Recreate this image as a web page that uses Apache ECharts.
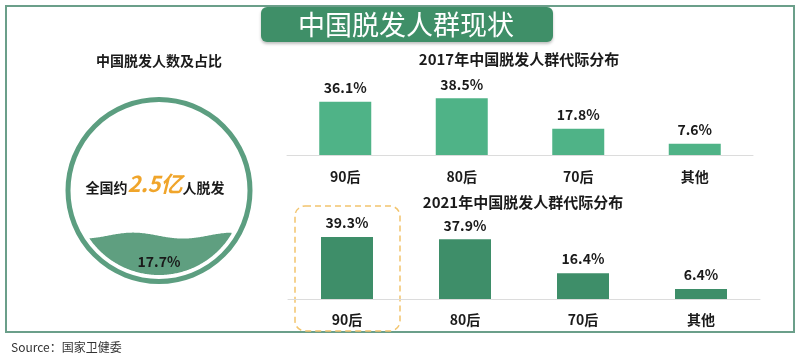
<!DOCTYPE html>
<html>
<head>
<meta charset="utf-8">
<script src="https://cdn.jsdelivr.net/npm/echarts@6/dist/echarts.min.js"></script>
<style>html,body{margin:0;padding:0;background:#fff}#c{width:800px;height:361px}</style>
</head>
<body>
<div id="c"></div>
<script>
// ---- data ----
const mainTitle = '中国脱发人群现状';
const leftTitle = '中国脱发人数及占比';
const totalText = ['全国约', '2.5亿', '人脱发'];
const hairLossShare = 17.7; // %
const categories = ['90后', '80后', '70后', '其他'];
const title2017 = '2017年中国脱发人群代际分布';
const values2017 = [36.1, 38.5, 17.8, 7.6];
const title2021 = '2021年中国脱发人群代际分布';
const values2021 = [39.3, 37.9, 16.4, 6.4];
const sourceText = 'Source：国家卫健委';

(function(){
const FONT = '"Noto Sans CJK SC", "Noto Sans", sans-serif';
const chart = echarts.init(document.getElementById('c'), null, {renderer: 'canvas'});

// circle geometry (decorative)
const cx = 159, cy = 190.5, ringR = 91, fillR = 84.5;
// water level from area share of the inner circle
function segFrac(theta){ return (theta - Math.sin(theta)) / (2*Math.PI); }
let lo = 0, hi = 2*Math.PI;
for (let i = 0; i < 60; i++){ const m = (lo+hi)/2; if (segFrac(m) < hairLossShare/100) lo = m; else hi = m; }
const theta = (lo+hi)/2;
const hh = fillR * (1 - Math.cos(theta/2));
const level = cy + fillR - hh;
const wave = x => level + 3*Math.sin((x - 158) / 100 * 2*Math.PI);
const upper = [], lower = [];
for (let x = cx - fillR; x <= cx + fillR; x += 1) {
  const yc = cy + Math.sqrt(Math.max(0, fillR*fillR - (x-cx)*(x-cx)));
  const yw = wave(x);
  if (yw < yc) { upper.push([x, yw]); lower.push([x, yc]); }
}
const wavePts = upper.concat(lower.reverse());

function barSeries(data, color, gi){
  return {
    type: 'bar', xAxisIndex: gi, yAxisIndex: gi, data: data, barWidth: 52,
    itemStyle: {color: color},
    label: {show: true, position: 'top', distance: 7, formatter: p => p.value.toFixed(1) + '%',
      color: '#1a1a1a', fontWeight: 'bold', fontSize: 14, fontFamily: FONT},
    silent: true, animation: false
  };
}
function xAx(gi, margin){
  return {gridIndex: gi, type: 'category', data: categories,
    axisLine: {show: true, lineStyle: {color: '#dcdcdc', width: 1}},
    axisTick: {show: false},
    axisLabel: {margin: margin, color: '#1a1a1a', fontWeight: 'bold', fontSize: 14, fontFamily: FONT}};
}
function yAx(gi){
  return {gridIndex: gi, type: 'value', min: 0, max: 40, show: false, splitLine: {show: false}};
}

chart.setOption({
  animation: false,
  grid: [
    {left: 287, top: 96, width: 466, height: 59},
    {left: 288, top: 236, width: 472, height: 63}
  ],
  xAxis: [xAx(0, 15), xAx(1, 14)],
  yAxis: [yAx(0), yAx(1)],
  series: [barSeries(values2017, '#4fb387', 0), barSeries(values2021, '#3e8e69', 1)],
  graphic: [
    {type: 'rect', z: -1, shape: {x: 6, y: 6, width: 788, height: 326}, style: {fill: 'none', stroke: '#6b9f8a', lineWidth: 2}},
    {type: 'rect', shape: {x: 261, y: 7, width: 292, height: 35, r: 6},
      style: {fill: '#3f8f68', shadowBlur: 3, shadowOffsetY: 2, shadowColor: 'rgba(0,0,0,0.25)'}},
    {type: 'text', x: 406, y: 25, style: {text: mainTitle, fill: '#ffffff', font: '400 27px ' + FONT, textAlign: 'center', textVerticalAlign: 'middle'}},
    {type: 'text', x: 159, y: 61, style: {text: leftTitle, fill: '#1a1a1a', font: 'bold 14px ' + FONT, textAlign: 'center', textVerticalAlign: 'middle'}},
    {type: 'text', x: 519, y: 59, style: {text: title2017, fill: '#1a1a1a', font: 'bold 15px ' + FONT, textAlign: 'center', textVerticalAlign: 'middle'}},
    {type: 'text', x: 523, y: 202, style: {text: title2021, fill: '#1a1a1a', font: 'bold 15px ' + FONT, textAlign: 'center', textVerticalAlign: 'middle'}},
    {type: 'circle', shape: {cx: cx, cy: cy, r: ringR}, style: {fill: 'none', stroke: '#5c9e80', lineWidth: 5}},
    {type: 'polygon', shape: {points: wavePts}, style: {fill: '#5f9f80'}},
    {type: 'text', x: 159, y: 262, style: {text: hairLossShare.toFixed(1) + '%', fill: '#1a1a1a', font: 'bold 14px ' + FONT, textAlign: 'center', textVerticalAlign: 'middle'}},
    {type: 'text', x: 155, y: 184, style: {
      text: '{a|' + totalText[0] + '}{b|' + totalText[1] + '}{a|' + totalText[2] + '}',
      align: 'center', verticalAlign: 'middle',
      rich: {
        a: {fontFamily: FONT, fontWeight: 'bold', fontSize: 14, fill: '#1a1a1a', verticalAlign: 'bottom'},
        b: {fontFamily: FONT, fontWeight: 'bold', fontStyle: 'italic', fontSize: 22, fill: '#f0a52b', verticalAlign: 'bottom'}
      }}},
    {type: 'text', x: 11, y: 347, style: {text: sourceText, fill: '#333333', font: '12px ' + FONT, textVerticalAlign: 'middle'}}
  ]
});

// highlight box around the first 2021 category
const p = chart.convertToPixel({gridIndex: 1}, [categories[0], 0]);
chart.setOption({graphic: [{id: 'hl', type: 'rect', shape: {x: p[0] - 52, y: 206, width: 105, height: 125, r: 10},
  style: {fill: 'none', stroke: '#f2c46d', lineWidth: 1.5, lineDash: [6, 4]}}]});
})();
</script>
</body>
</html>
